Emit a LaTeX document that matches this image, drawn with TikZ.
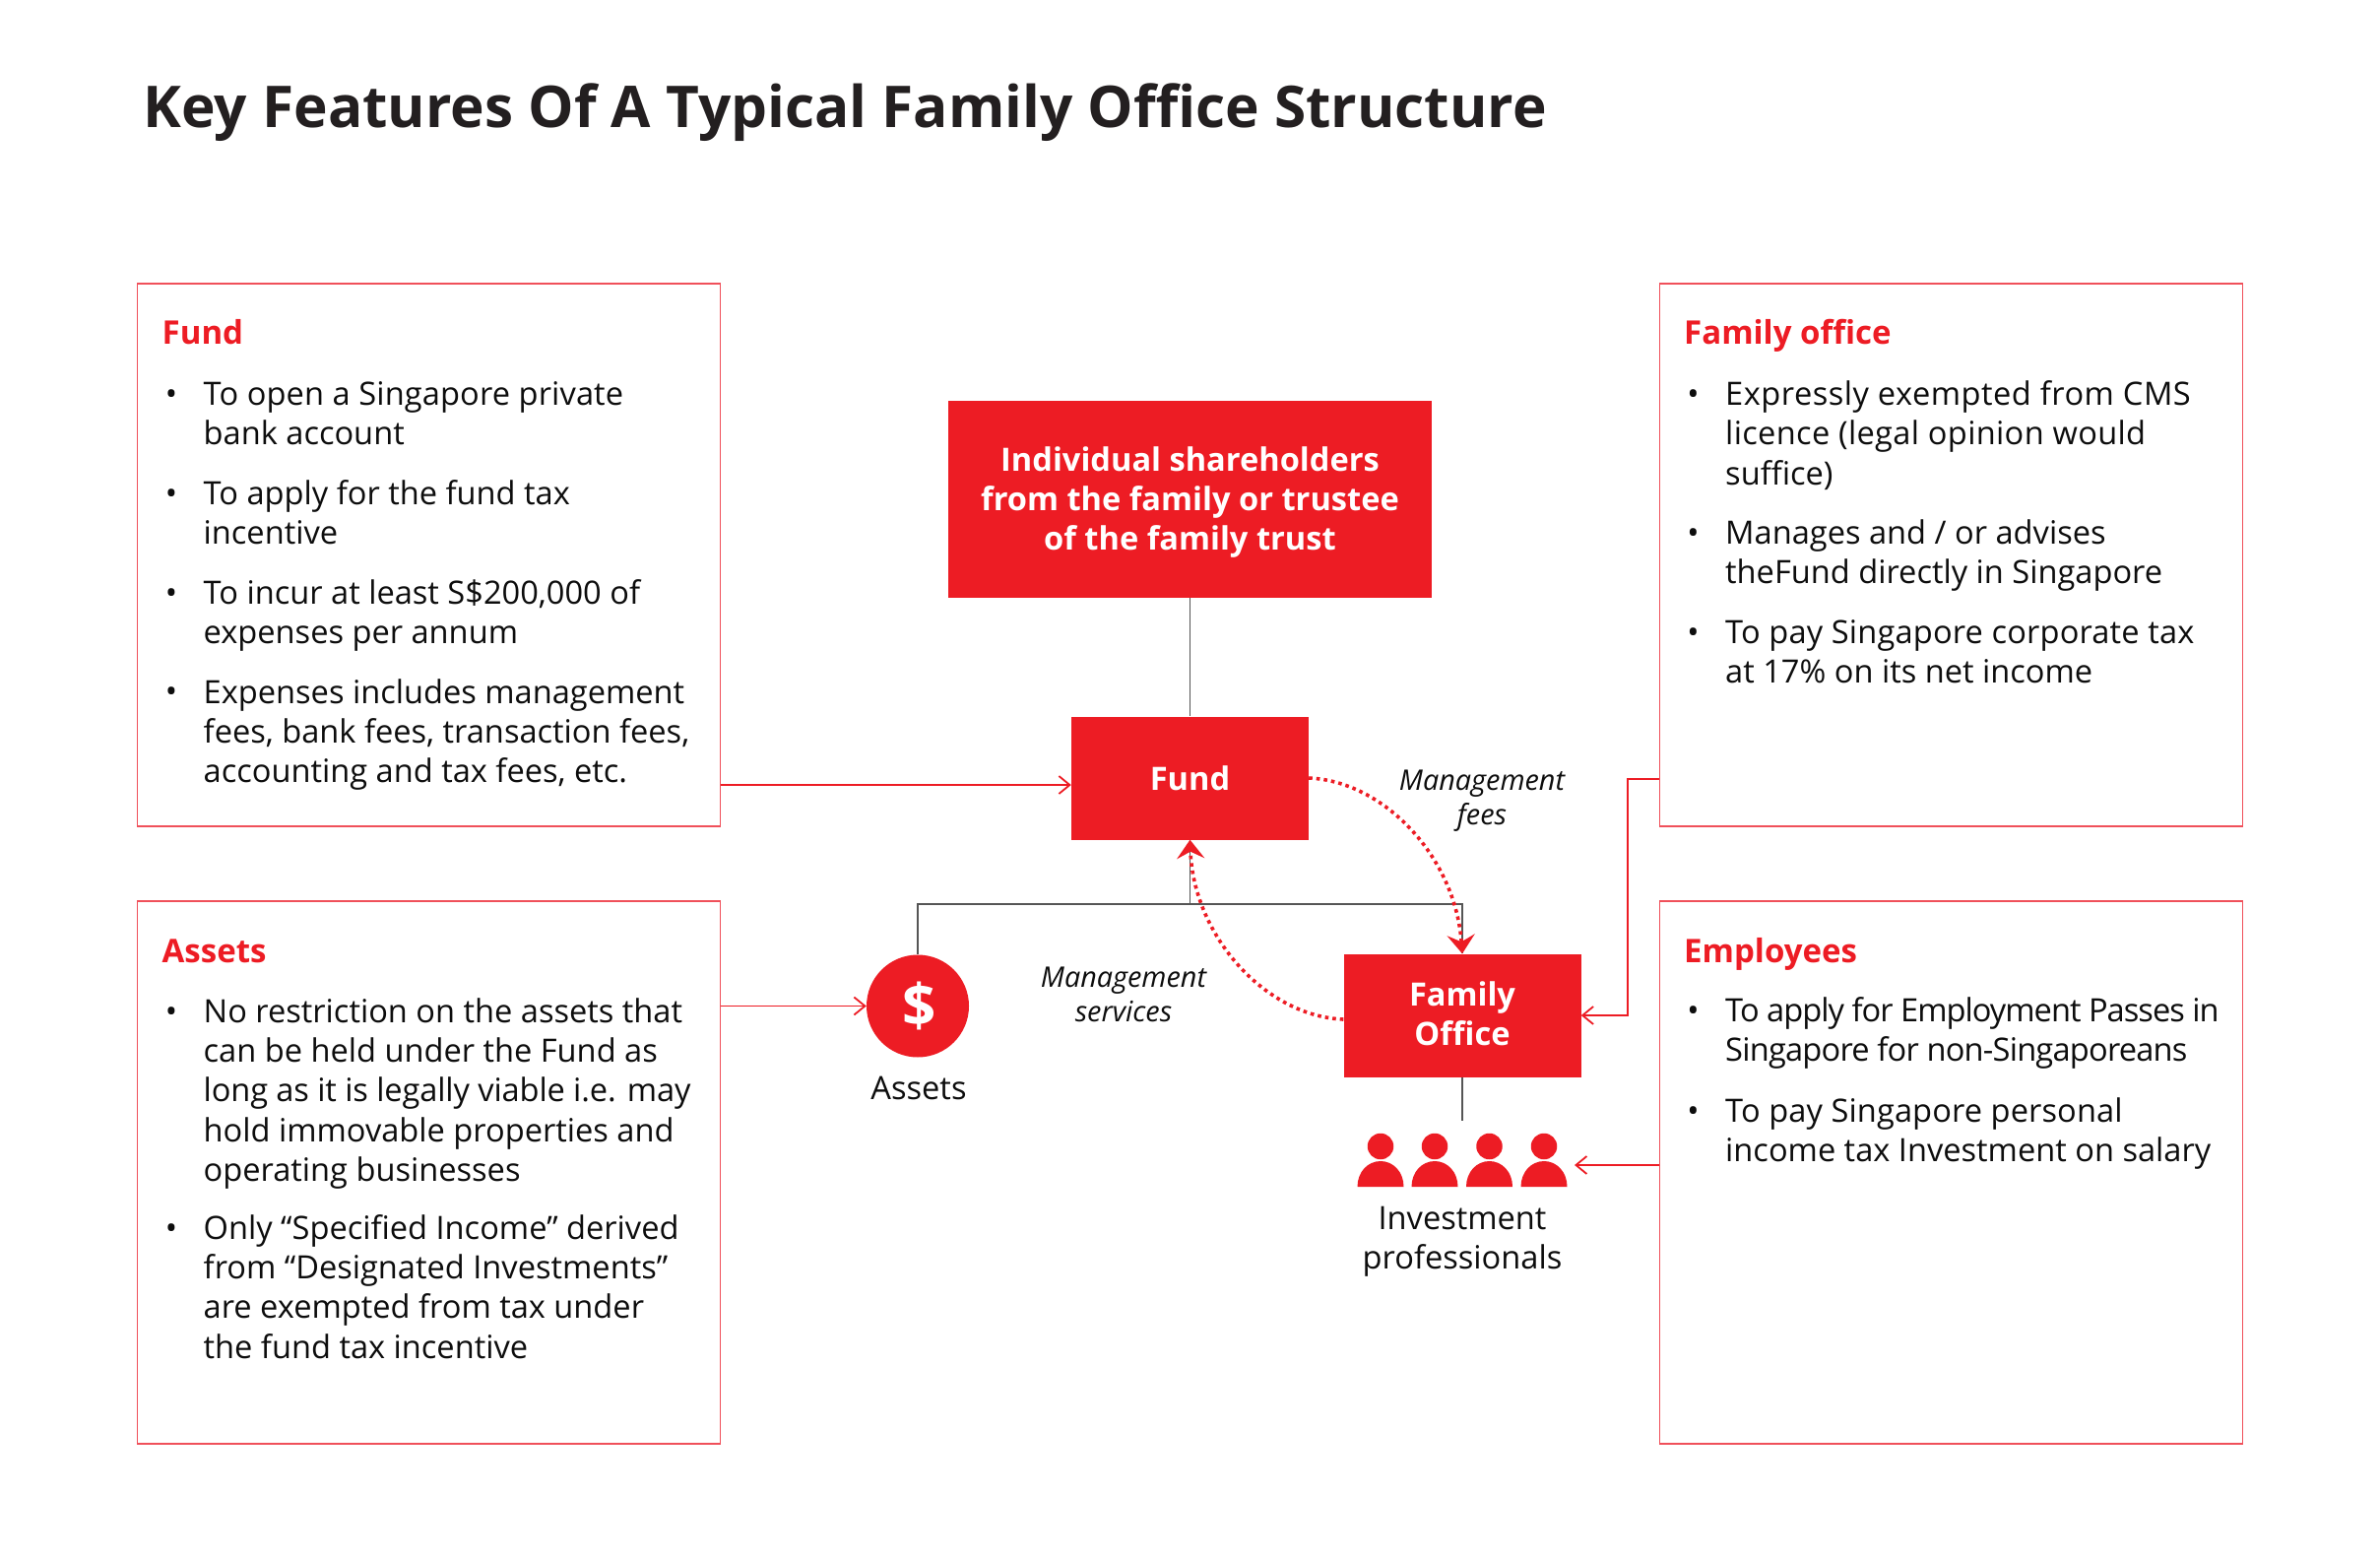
\documentclass[tikz,border=0pt]{standalone}
\usepackage{fontspec}
\setmainfont{Open Sans}
\usetikzlibrary{arrows.meta,calc}
\definecolor{brandred}{HTML}{ED1C24}
\definecolor{boxline}{HTML}{F0505A}
\definecolor{greyline}{HTML}{555555}
\definecolor{inktext}{HTML}{0D0D0D}
\definecolor{titleink}{HTML}{231F20}
\newcommand{\bodyfont}{\fontsize{32.6}{40.1}\selectfont}
\newcommand{\lsp}[1]{\addfontfeature{LetterSpace=#1}}
\tikzset{
  infobox/.style={draw=boxline,line width=1.4pt,fill=white,inner sep=0pt,anchor=north west},
  redbox/.style={fill=brandred,text=white,inner sep=0pt,align=center,font=\bodyfont\bfseries},
  bodytext/.style={inner sep=0pt,anchor=north west,align=left,text=inktext,font=\bodyfont},
  heading/.style={inner sep=0pt,anchor=base west,text=brandred,font=\fontsize{33}{40}\selectfont\bfseries},
  bulletmark/.style={inner sep=0pt,anchor=base,text=inktext,font=\bodyfont},
  ctext/.style={inner sep=0pt,align=center,text=inktext,font=\bodyfont},
  italictext/.style={inner sep=0pt,align=center,text=inktext,font=\fontsize{28.8}{35.5}\selectfont\itshape},
  treeline/.style={draw=greyline,line width=1.6pt},
  redline/.style={draw=brandred,line width=1.8pt,-{Straight Barb[length=11pt,width=18pt,line width=1.8pt]}},
  dotflow/.style={draw=brandred,line width=3.6pt,dash pattern=on 3.6pt off 4pt,-{Stealth[length=19pt,width=28pt,inset=7pt]}},
  headshape/.style={circle,fill=brandred,minimum size=26.5pt,inner sep=0pt},
}
\newcommand{\bitem}[4]{%
  \node[bulletmark] (#1b) at (#2-32.5,#3) {•};
  \node[bodytext] (#1) at (#2,#3-28) {\strut #4};
}
\begin{document}
\begin{tikzpicture}[x=1pt,y=-1pt]
\useasboundingbox (0,0) rectangle (2417,1584);
\fill[white] (0,0) rectangle (2417,1584);

\node[inner sep=0pt,anchor=base west,text=titleink,font=\fontsize{58.5}{70}\selectfont\bfseries] (title) at (145.5,130) {Key Features Of A Typical Family Office Structure};

% info boxes
\node[infobox,minimum width=592pt,minimum height=551pt] (bfund) at (139,287.4) {};
\node[infobox,minimum width=592pt,minimum height=551pt] (bassets) at (139,914.4) {};
\node[infobox,minimum width=592pt,minimum height=551pt] (boffice) at (1685,287.4) {};
\node[infobox,minimum width=592pt,minimum height=551pt] (bemp) at (1685,914.4) {};

% centre boxes
\node[redbox,minimum width=491pt,minimum height=200pt] (top) at (1208.5,507) {};
\node[inner sep=0pt,align=center,text=white,font=\bodyfont\bfseries] (toptext) at (1208.5,510) {Individual shareholders\\from the family or trustee\\of the family trust};
\node[redbox,minimum width=241pt,minimum height=125pt] (fundn) at (1208.5,790) {Fund};
\node[redbox,minimum width=241pt,minimum height=125pt] (fo) at (1485,1031) {};
\node[inner sep=0pt,align=center,text=white,font=\bodyfont\bfseries] (fotext) at (1485,1029.5) {Family\\Office};
\node[circle,fill=brandred,minimum size=104pt,inner sep=0pt] (dollar) at (932,1021.5) {};
\node[inner sep=0pt,text=white,font=\fontsize{60}{70}\selectfont\bfseries] (dollarsign) at (933.5,1021.5) {\$};

% tree lines
\coordinate (bus) at (1208.5,918);
\draw[treeline] (top.south) -- (fundn.north);
\draw[treeline] (fundn.south) -- (bus);
\draw[treeline] (dollar.north) -- (dollar.north |- bus) -- (bus -| fo.north) -- (fo.north);
\coordinate (pplend) at (1485,1138);
\draw[treeline] (fo.south) -- (pplend);

% red connectors
\draw[redline] (bfund.east |- 0,797) -- (fundn.west |- 0,797);
\draw[redline] (bassets.east |- dollar.west) -- (dollar.west);
\draw[redline] (boffice.west |- 0,791) -- (1653,791) -- (1653,1031) -- (fo.east);
\coordinate (empend) at (1599,1183);
\draw[redline] (bemp.west |- empend) -- (empend);

% dotted flows
\draw[dotflow] (fundn.east) ++(0,0) .. controls (1405,793) and (1478,870) .. (fo.north);
\draw[dotflow] (fo.west) ++(0,4) .. controls (1285,1032) and (1212,950) .. (fundn.south);

% people
\foreach \n/\px in {a/1402,b/1457,c/1512.5,d/1568}{
  \node[headshape] (head\n) at (\px,1164) {};
  \fill[brandred] (\px-23.5,1205) .. controls (\px-23.5,1190) and (\px-13,1179) .. (\px,1179) .. controls (\px+13,1179) and (\px+23.5,1190) .. (\px+23.5,1205) -- cycle;
}

% labels
\node[ctext] (lassets) at (933,1105) {Assets};
\node[ctext] (lpros) at (1485,1261) {Investment\\professionals};
\node[italictext] (lfees) at (1505,813) {Management\\fees};
\node[italictext] (lserv) at (1141,1010) {Management\\services};

% fund text
\node[heading] (hfund) at (164.5,349.5) {Fund};
\bitem{fa}{206.5}{411.6}{\lsp{0.35}To open a Singapore private\\\lsp{0}bank account}
\bitem{fb}{206.5}{512.5}{To apply for the fund tax\\incentive}
\bitem{fc}{206.5}{613.5}{To incur at least S\$200,000 of\\expenses per annum}
\bitem{fd}{206.5}{713.8}{Expenses includes management\\fees, bank fees, transaction fees,\\accounting and tax fees, etc.}

% assets text
\node[heading] (hassets) at (164.5,977.5) {Assets};
\bitem{aa}{206.5}{1038.5}{No restriction on the assets that\\can be held under the Fund as\\\lsp{-0.4}long as it is legally viable i.e. may\\\lsp{0}hold immovable properties and\\operating businesses}
\bitem{ab}{206.5}{1258.5}{Only “Specified Income” derived\\from “Designated Investments”\\are exempted from tax under\\the fund tax incentive}

% family office text
\node[heading] (hoffice) at (1710,349.5) {Family office};
\bitem{oa}{1752}{411.6}{\lsp{1.5}Expressly exempted from CMS\\\lsp{1}licence (legal opinion would\\\lsp{0}suffice)}
\bitem{ob}{1752}{552.5}{Manages and / or advises\\theFund directly in Singapore}
\bitem{oc}{1752}{653.5}{\lsp{0.5}To pay Singapore corporate tax\\\lsp{0}at 17\% on its net income}

% employees text
\node[heading] (hemp) at (1710,977.5) {Employees};
\bitem{ea}{1752}{1037.5}{\lsp{-3}To apply for Employment Passes in\\\lsp{-2.4}Singapore for non-Singaporeans}
\bitem{eb}{1752}{1139.5}{\lsp{0.3}To pay Singapore personal\\\lsp{0}income tax Investment on salary}
\end{tikzpicture}
\end{document}
